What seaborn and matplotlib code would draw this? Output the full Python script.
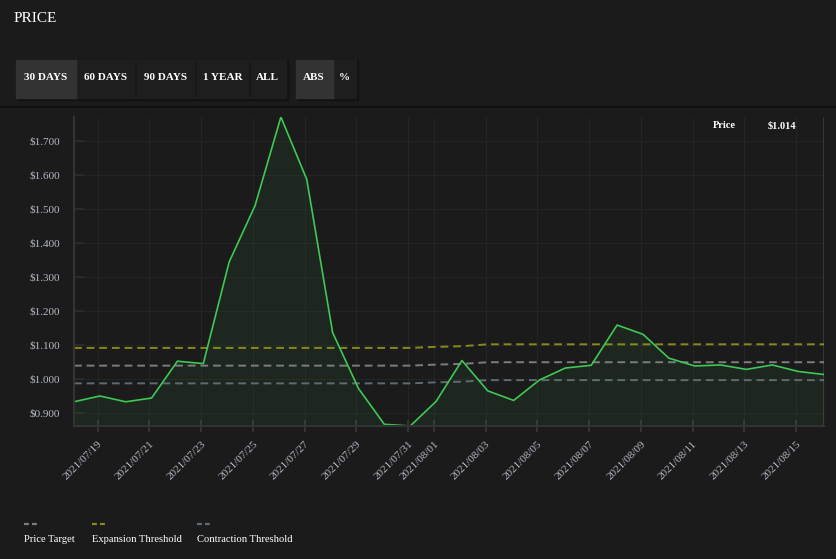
import pandas as pd
import numpy as np
import seaborn as sns
import matplotlib
matplotlib.use("Agg")
import matplotlib.pyplot as plt
import matplotlib.dates as mdates
from matplotlib.patches import Rectangle
from matplotlib.ticker import FuncFormatter

# ------------------------------------------------------------------
# data
# ------------------------------------------------------------------
dates = pd.date_range("2021-07-18 02:00", periods=30, freq="D")
price = [0.934, 0.951, 0.934, 0.945, 1.053, 1.046, 1.344, 1.509, 1.769, 1.586,
         1.137, 0.973, 0.868, 0.863, 0.935, 1.055, 0.966, 0.938, 0.998, 1.033,
         1.041, 1.159, 1.132, 1.062, 1.039, 1.042, 1.029, 1.042, 1.023, 1.014]
price_target = [1.040] * 14 + [1.043, 1.045] + [1.050] * 14
expansion = [1.092] * 14 + [1.095, 1.097] + [1.1025] * 14
contraction = [0.988] * 14 + [0.991, 0.993] + [0.9975] * 14

legend_labels = ["Price Target", "Expansion Threshold", "Contraction Threshold"]
range_buttons = ["30 DAYS", "60 DAYS", "90 DAYS", "1 YEAR", "ALL"]
mode_buttons = ["ABS", "%"]

BG = "#1b1b1b"
GREEN = "#3ec855"
C_TARGET = "#7d7d7d"
C_EXP = "#8a8a1c"
C_CON = "#5c6c72"
W, H = 837, 559
DASH = (0, (4, 2.5))

sns.set_theme(style="dark")
plt.rcParams["font.family"] = ["Liberation Serif", "DejaVu Serif"]
plt.rcParams["axes.facecolor"] = BG
plt.rcParams["figure.facecolor"] = BG


def fx(px):
    return px / W


def fy(py):
    return 1 - py / H


def box(x, y0, w, y1, color, alpha=1.0):
    fig.patches.append(Rectangle((fx(x), fy(y1)), fx(w), fy(y0) - fy(y1),
                                 transform=fig.transFigure, color=color, alpha=alpha))


fig = plt.figure(figsize=(W / 100, H / 100), dpi=100)
ax = fig.add_axes([fx(74), fy(426), fx(824) - fx(74), fy(117) - fy(426)])

df = pd.DataFrame({"date": dates, "price": price, "target": price_target,
                   "expansion": expansion, "contraction": contraction})

ax.fill_between(df["date"], df["price"], min(price), color=GREEN, alpha=0.07, lw=0)
sns.lineplot(data=df, x="date", y="expansion", ax=ax, color=C_EXP, lw=1.4, linestyle=DASH)
sns.lineplot(data=df, x="date", y="target", ax=ax, color=C_TARGET, lw=1.4, linestyle=DASH)
sns.lineplot(data=df, x="date", y="contraction", ax=ax, color=C_CON, lw=1.4, linestyle=DASH)
sns.lineplot(data=df, x="date", y="price", ax=ax, color=GREEN, lw=1.2)

# hover cursor at the latest point
ax.axvline(dates[-1], color="#a8a8a8", lw=1)

ax.set_xlim(dates[0], dates[-1])
ax.set_ylim(min(price), max(price))
ax.set_xlabel("")
ax.set_ylabel("")

ax.xaxis.set_major_locator(mdates.DayLocator(bymonthday=range(1, 32, 2)))
ax.xaxis.set_major_formatter(mdates.DateFormatter("%Y/%m/%d"))
ax.set_yticks(np.arange(0.9, 1.75, 0.1))
ax.yaxis.set_major_formatter(FuncFormatter(lambda v, _: f"${v:.3f}"))

for lab in ax.get_xticklabels():
    lab.set_rotation(45)
    lab.set_ha("right")
    lab.set_rotation_mode("anchor")
ax.tick_params(axis="x", colors="#3a3a3a", labelcolor="#b4b8c4", labelsize=8,
               direction="inout", length=9, width=1.2, pad=5, bottom=True)
ax.tick_params(axis="y", colors="#2e2e2e", labelcolor="#b4b8c4", labelsize=8,
               direction="in", length=7, width=1.2, pad=10, left=True)

ax.grid(True, color="#242424", lw=0.8)
for side in ["top", "right"]:
    ax.spines[side].set_visible(False)
for side in ["left", "bottom"]:
    ax.spines[side].set_color("#333333")
    ax.spines[side].set_linewidth(1.5)

# ------------------------------------------------------------------
# header: title, buttons, separator
# ------------------------------------------------------------------
fig.text(fx(14), fy(19), "PRICE", color="white", fontsize=11, va="center")

# range group
box(18, 60, 270, 100, "#101010", 0.6)
box(16, 60, 270, 98, "#1e1e1e")
box(16, 60, 60, 98, "#333333")
for xs in [135, 195, 249]:
    box(xs, 62, 1, 96, "#191919")
for lab, xc in zip(range_buttons, [45.5, 105.5, 165.5, 222.5, 267.5]):
    fig.text(fx(xc), fy(78), lab, color="white", fontsize=8,
             fontweight="bold", ha="center", va="center")

# abs / % group
box(298, 60, 60, 100, "#101010", 0.6)
box(296, 60, 60, 98, "#1e1e1e")
box(296, 60, 37, 98, "#333333")
for lab, xc in zip(mode_buttons, [314, 344]):
    fig.text(fx(xc), fy(78), lab, color="white", fontsize=8,
             fontweight="bold", ha="center", va="center")

fig.add_artist(plt.Line2D([0, 1], [fy(107), fy(107)], transform=fig.transFigure,
                          color="#101010", lw=1.5))

# tooltip
fig.text(fx(713), fy(126), "Price", color="white", fontsize=7.5,
         fontweight="bold", va="center")
fig.text(fx(768), fy(126), f"${price[-1]:.3f}", color="white", fontsize=7.5,
         fontweight="bold", va="center")

# ------------------------------------------------------------------
# legend
# ------------------------------------------------------------------
for lab, col, xp in zip(legend_labels, [C_TARGET, C_EXP, C_CON], [24, 92, 197]):
    fig.add_artist(plt.Line2D([fx(xp), fx(xp + 14)], [fy(524), fy(524)],
                              transform=fig.transFigure, color=col, lw=1.6,
                              linestyle=(0, (2.2, 1.4))))
    fig.text(fx(xp), fy(540), lab, color="white", fontsize=7.6, va="center")

fig.savefig("out.png", dpi=100, facecolor=BG)
